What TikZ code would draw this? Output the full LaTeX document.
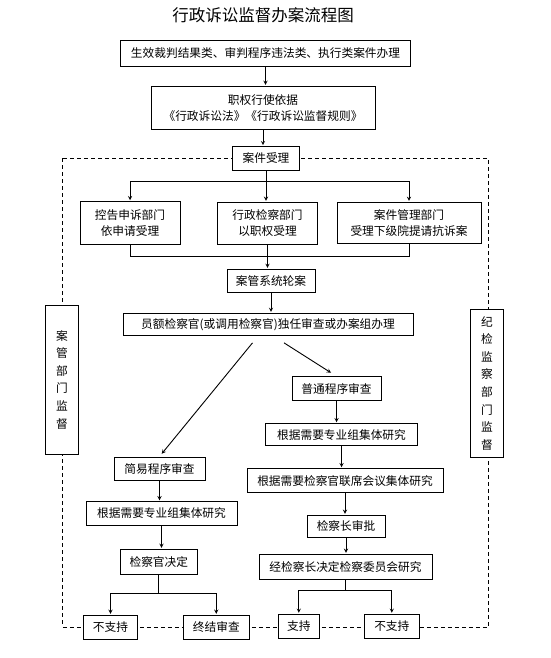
\documentclass[tikz,border=0pt]{standalone}
\usepackage{fontspec}
\setmainfont{Noto Sans CJK SC}
\usepackage{tikz}
\usetikzlibrary{calc,arrows,positioning}

\tikzset{
  kuang/.style={draw, line width=0.9pt, fill=white, inner sep=1pt, align=center,
    font=\fontsize{11.7}{16}\selectfont},
  jiandu/.style={kuang, minimum width=33, font=\fontsize{11.7}{17.6}\selectfont},
  arr/.style={-stealth, line width=0.9pt, shorten >=1pt},
  xian/.style={line width=0.9pt}
}

\begin{document}
\begin{tikzpicture}[x=1pt,y=-1pt]
\useasboundingbox (0,0) rectangle (550,658);
\node[font=\fontsize{16.5}{18}\selectfont] (biaoti) at (263,15) {行政诉讼监督办案流程图};
% supervision frame
\draw[dashed, line width=0.9pt, dash pattern=on 4pt off 3pt] (62.5,158.3) rectangle (488.3,627);
\node[kuang, minimum width=290, minimum height=25.6] (shengxiao) at (265.5,53.5) {生效裁判结果类、审判程序违法类、执行类案件办理};
\node[kuang, minimum width=224, minimum height=43] (yiju) at (263,107.8) {职权行使依据\\《行政诉讼法》《行政诉讼监督规则》};
\node[kuang, minimum width=67, minimum height=23.3] (shouli) at (266,158.3) {案件受理};
\node[kuang, minimum width=100, minimum height=42.6] (konggao) at (130,223) {控告申诉部门\\依申请受理};
\node[kuang, minimum width=100, minimum height=42] (xingzheng) at (267.5,223.3) {行政检察部门\\以职权受理};
\node[kuang, minimum width=144, minimum height=40.7] (anguan) at (409,222.7) {案件管理部门\\受理下级院提请抗诉案};
\node[kuang, minimum width=88, minimum height=22.7] (lunan) at (271,280.7) {案管系统轮案};
\node[kuang, minimum width=290, minimum height=22] (banli) at (268,324.4) {员额检察官(或调用检察官)独任审查或办案组办理};
\node[jiandu, minimum height=149.3] (zuojd) at (62,379.7) {案\\管\\部\\门\\监\\督};
\node[jiandu, minimum height=148] (youjd) at (487,383.3) {纪\\检\\监\\察\\部\\门\\监\\督};
% ordinary procedure
\node[kuang, minimum width=89, minimum height=24] (putong) at (336.5,388.7) {普通程序审查};
\node[kuang, minimum width=152, minimum height=22] (zhuanye2) at (341.5,434.7) {根据需要专业组集体研究};
\node[kuang, minimum width=196, minimum height=24] (lianxi) at (345,480.7) {根据需要检察官联席会议集体研究};
\node[kuang, minimum width=78, minimum height=22] (pizhun) at (346,526.3) {检察长审批};
\node[kuang, minimum width=173, minimum height=25] (weiyuan) at (345.5,566.8) {经检察长决定检察委员会研究};
\node[kuang, minimum width=41, minimum height=24] (zhichi) at (298.8,626.3) {支持};
\node[kuang, minimum width=55, minimum height=24] (buzhichi2) at (391.8,626.3) {不支持};
% simple procedure
\node[kuang, minimum width=91, minimum height=23.7] (jianyi) at (159.5,468.8) {简易程序审查};
\node[kuang, minimum width=151, minimum height=23.6] (zhuanye1) at (161.5,513.5) {根据需要专业组集体研究};
\node[kuang, minimum width=77, minimum height=25] (jueding) at (158.8,561.8) {检察官决定};
\node[kuang, minimum width=54.4, minimum height=24] (buzhichi1) at (110.5,627.3) {不支持};
\node[kuang, minimum width=66, minimum height=24] (zhongjie) at (216.3,627.3) {终结审查};
% connectors
\draw[arr] (shengxiao.south) -- (shengxiao.south |- yiju.north);
\draw[arr] (yiju.south) -- (yiju.south |- shouli.north);
\draw[xian] (shouli.south) -- ++(0,11) coordinate (fen1);
\draw[arr] (fen1) -| (konggao);
\draw[arr] (fen1) -- (fen1 |- xingzheng.north);
\draw[arr] (fen1) -| (anguan);
\draw[xian] (konggao.south) -- ++(0,12) -| (anguan.south);
\draw[arr] (xingzheng.south) -- (xingzheng.south |- lunan.north);
\draw[arr] (lunan.south) -- (lunan.south |- banli.north);
\draw[arr, shorten >=3.5pt] ($(banli.south)+(-15.5,7)$) -- (jianyi.north);
\draw[arr, shorten >=6.5pt] ($(banli.south)+(16,7)$) -- (putong.north);
\draw[arr] (putong.south) -- (putong.south |- zhuanye2.north);
\draw[arr] (zhuanye2.south) -- (zhuanye2.south |- lianxi.north);
\draw[arr] (lianxi.south) -- (lianxi.south |- pizhun.north);
\draw[arr] (pizhun.south) -- (pizhun.south |- weiyuan.north);
\draw[xian] (weiyuan.south) -- ++(0,10.2) coordinate (fen3);
\draw[arr] (fen3) -| (zhichi);
\draw[arr] (fen3) -| (buzhichi2);
\draw[arr] (jianyi.south) -- (jianyi.south |- zhuanye1.north);
\draw[arr] (zhuanye1.south) -- (zhuanye1.south |- jueding.north);
\draw[xian] (jueding.south) -- ++(0,18.7) coordinate (fen2);
\draw[arr] (fen2) -| (buzhichi1);
\draw[arr] (fen2) -| (zhongjie);
\end{tikzpicture}
\end{document}
